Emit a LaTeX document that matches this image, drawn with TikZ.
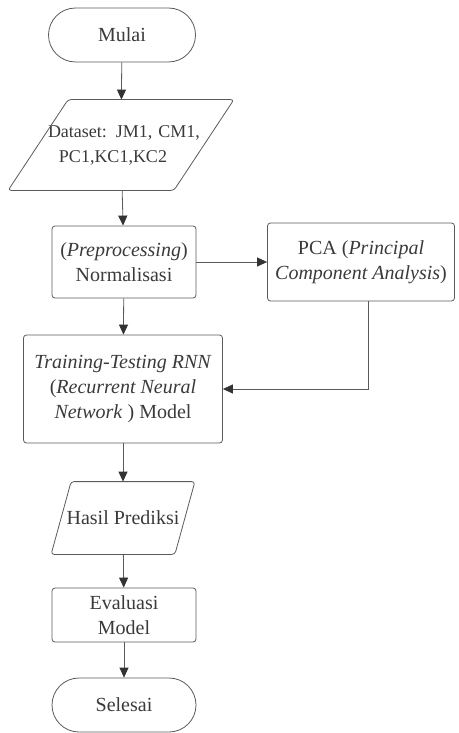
\documentclass[tikz,border=0pt]{standalone}
\usepackage{fontspec}
\setmainfont{Liberation Serif}
\usepackage{tikz}
\usetikzlibrary{arrows.meta}
\definecolor{flowline}{HTML}{5A5A5A}
\definecolor{flowtext}{HTML}{3A3A3A}
\definecolor{flowtip}{HTML}{333333}

% slanted input/output outline round a named node: #1 node, #2 half slant
\newcommand{\ioshape}[2]{%
  \draw[ioline] ([xshift=-#2]#1.south west) -- ([xshift=-#2]#1.south east)
    -- ([xshift=#2]#1.north east) -- ([xshift=#2]#1.north west) -- cycle;}

\begin{document}
\begin{tikzpicture}[x=0.5pt, y=-0.5pt, font=\fontsize{10}{12.5}\selectfont, text=flowtext]

% Styles
\tikzset{
  terminal/.style={draw=flowline, thin, rounded corners=13.5pt, minimum height=27pt, align=center, inner sep=2pt},
  procbox/.style={draw=flowline, thin, rounded corners=1.5pt, align=center, inner sep=1pt},
  iobox/.style={align=center, inner sep=0pt},
  ioline/.style={draw=flowline, thin, rounded corners=1.5pt},
  flow/.style={draw=flowline, thin, -{Triangle[length=5pt, width=4.5pt, flowtip]}}
}

\useasboundingbox (0,0) rectangle (459,733);

% -- Nodes --
\node[terminal, minimum width=73.5pt] (mulai) at (122,35) {Mulai};
\node[iobox, text width=82.5pt, minimum height=45pt, font=\fontsize{9}{12.5}\selectfont] (data) at (121,145) {\makebox[82.5pt]{\hspace{3pt}Dataset: JM1, CM1,}\\\makebox[82.5pt]{PC1,KC1,KC2\hspace{8pt}}};
\node[procbox, minimum width=72pt, minimum height=36pt] (prep) at (124,262) {(\textit{Preprocessing})\\Normalisasi};
\node[procbox, minimum width=93.5pt, minimum height=39pt] (pca) at (361,262) {PCA (\textit{Principal}\\\textit{Component Analysis})};
\node[procbox, minimum width=99.5pt, minimum height=54pt, inner sep=0pt] (train) at (123,389) {\textit{Training-Testing RNN}\\(\textit{Recurrent Neural}\\\textit{Network} ) Model};
\node[iobox, minimum width=61.5pt, minimum height=36pt] (hasil) at (123,518) {Hasil Prediksi};
\node[procbox, minimum width=72pt, minimum height=27pt] (eval) at (124,615) {Evaluasi\\Model};
\node[terminal, minimum width=72pt] (selesai) at (124,705) {Selesai};

% Parallelogram outlines
\ioshape{data}{15pt}
\ioshape{hasil}{5pt}

% -- Connectors --
\draw[flow] (mulai) -- (data);
\draw[flow] (data) -- (prep);
\draw[flow] (prep) -- (pca);
\draw[flow] (prep) -- (train);
\draw[flow] ([xshift=3.5pt]pca.south) |- (train.east);
\draw[flow] (train) -- (hasil);
\draw[flow] (hasil) -- (eval);
\draw[flow] (eval) -- (selesai);

\end{tikzpicture}
\end{document}
